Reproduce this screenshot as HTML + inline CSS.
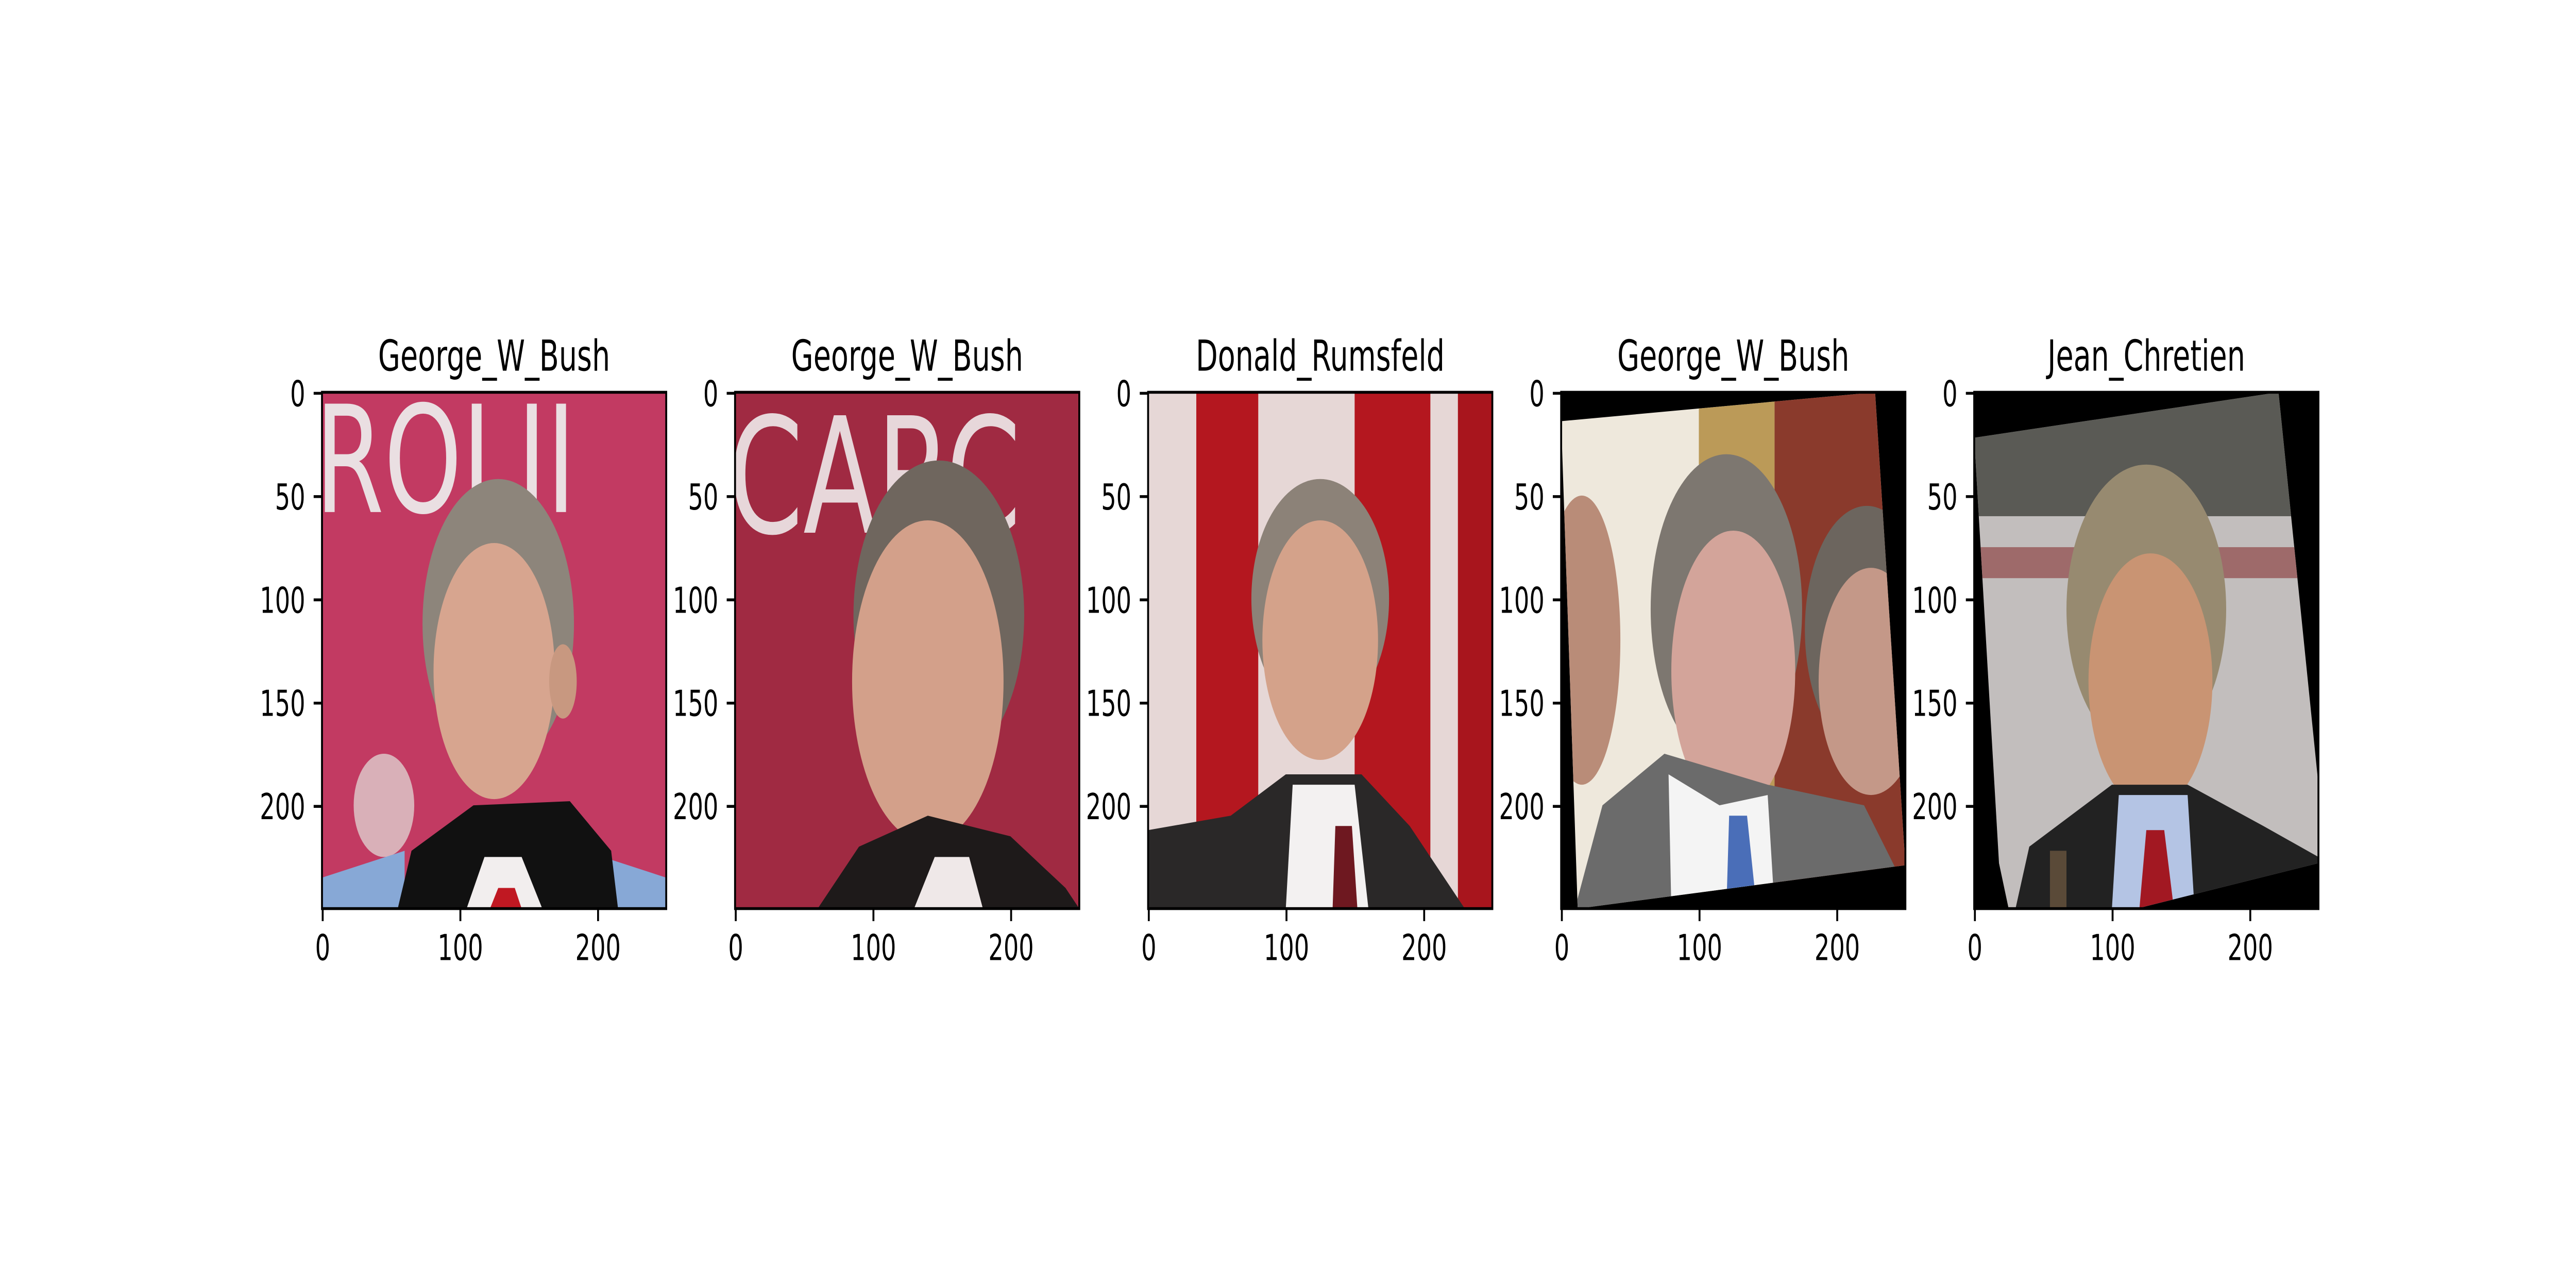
<!DOCTYPE html>
<html><head><meta charset="utf-8"><style>
html,body{margin:0;padding:0;background:#fff;overflow:hidden;width:100%;height:100%;}
svg{display:block;width:100vw;height:100vh;}
text{font-family:"DejaVu Sans","Liberation Sans",sans-serif;fill:#000;}
</style></head><body>
<svg id="fig" viewBox="0 0 7500 2500" preserveAspectRatio="none" xmlns="http://www.w3.org/2000/svg">
<rect x="0" y="0" width="7500" height="2500" fill="#fff"/>
<defs>
<clipPath id="cpSq"><rect width="250" height="250"/></clipPath>
<g id="img1">
 <g clip-path="url(#cpSq)">
 <rect width="250" height="250" fill="#c23a62"/>
 <text x="-5" y="58" font-size="72" font-family="Liberation Serif" style="fill:#eadfe2">ROLII</text>
 <ellipse cx="45" cy="200" rx="22" ry="25" fill="#d9b0b8"/>
 <ellipse cx="128" cy="112" rx="55" ry="70" fill="#8d857b"/>
 <ellipse cx="125" cy="135" rx="44" ry="62" fill="#d7a58f"/>
 <ellipse cx="175" cy="140" rx="10" ry="18" fill="#c89880"/>
 <path d="M0 235 L60 222 L60 250 L0 250Z" fill="#87a8d6"/>
 <path d="M190 222 L250 235 L250 250 L190 250Z" fill="#87a8d6"/>
 <path d="M55 250 L65 222 L110 200 L180 198 L210 222 L215 250Z" fill="#111"/>
 <path d="M105 250 L118 225 L145 225 L160 250Z" fill="#f2eeee"/>
 <path d="M122 250 L128 240 L140 240 L145 250Z" fill="#c01822"/>
 </g>
</g>
<g id="img2">
 <g clip-path="url(#cpSq)">
 <rect width="250" height="250" fill="#a02a42"/>
 <text x="-5" y="68" font-size="78" font-family="Liberation Serif" style="fill:#e7d7da">CARC</text>
 <ellipse cx="148" cy="108" rx="62" ry="75" fill="#6f665e"/>
 <ellipse cx="140" cy="140" rx="55" ry="78" fill="#d3a08a"/>
 <path d="M60 250 L90 220 L140 205 L200 215 L240 240 L250 250Z" fill="#1e1a1a"/>
 <path d="M130 250 L145 225 L170 225 L180 250Z" fill="#efe8e8"/>
 </g>
</g>
<g id="img3">
 <rect width="250" height="250" fill="#e6d7d6"/>
 <rect x="35" y="0" width="45" height="250" fill="#b4171f"/>
 <rect x="150" y="0" width="55" height="250" fill="#b4171f"/>
 <rect x="225" y="0" width="25" height="250" fill="#a8151d"/>
 <ellipse cx="125" cy="100" rx="50" ry="58" fill="#8c8278"/>
 <ellipse cx="125" cy="120" rx="42" ry="58" fill="#d4a28a"/>
 <path d="M0 212 L60 205 L100 185 L155 185 L190 210 L230 250 L0 250Z" fill="#2a2828"/>
 <path d="M100 250 L105 190 L150 190 L160 250Z" fill="#f3f1f1"/>
 <path d="M134 250 L136 210 L148 210 L152 250Z" fill="#6e1820"/>
</g>
<clipPath id="cp4"><polygon points="0,14 228,0 250,229 12,250"/></clipPath>
<clipPath id="cp5"><polygon points="0,22 221,0 250,190 250,228 118,250 25,250 18,228"/></clipPath>
<g id="img4">
 <rect width="250" height="250" fill="#000"/>
 <g clip-path="url(#cp4)">
  <rect width="250" height="250" fill="#eee8dc"/>
  <rect x="100" y="0" width="55" height="250" fill="#bb9a58"/>
  <rect x="155" y="0" width="95" height="250" fill="#8a3a2c"/>
  <ellipse cx="15" cy="120" rx="28" ry="70" fill="#b98c78"/>
  <ellipse cx="222" cy="115" rx="45" ry="60" fill="#6c655e"/>
  <ellipse cx="225" cy="140" rx="38" ry="55" fill="#c49888"/>
  <ellipse cx="120" cy="105" rx="55" ry="75" fill="#7d7770"/>
  <ellipse cx="125" cy="135" rx="45" ry="68" fill="#d3a49a"/>
  <path d="M10 250 L30 200 L75 175 L150 190 L220 200 L250 240 L250 250Z" fill="#6b6b6b"/>
  <path d="M80 250 L78 185 L115 200 L150 195 L155 250Z" fill="#f4f4f4"/>
  <path d="M120 250 L122 205 L135 205 L142 250Z" fill="#4a6eb8"/>
 </g>
</g>
<g id="img5">
 <rect width="250" height="250" fill="#000"/>
 <g clip-path="url(#cp5)">
  <rect width="250" height="250" fill="#c2bebd"/>
  <rect x="0" y="0" width="250" height="60" fill="#5a5a55"/>
  <rect x="0" y="75" width="250" height="15" fill="#9e6a6a"/>
  <ellipse cx="125" cy="105" rx="58" ry="70" fill="#978a70"/>
  <ellipse cx="128" cy="140" rx="45" ry="62" fill="#c99473"/>
  <path d="M30 250 L40 220 L100 190 L155 190 L210 210 L250 225 L250 250Z" fill="#222"/>
  <path d="M100 250 L105 195 L155 195 L160 250Z" fill="#b4c4e4"/>
  <path d="M120 250 L125 212 L138 212 L145 250Z" fill="#a21822"/>
  <rect x="55" y="222" width="12" height="28" fill="#5a4a38"/>
 </g>
</g>
</defs>
<g id="panels"></g>
</svg>
<script>
const titles = ["George_W_Bush","George_W_Bush","Donald_Rumsfeld","George_W_Bush","Jean_Chretien"];
const yTicks = [0,50,100,150,200];
const xTicks = [0,100,200];
const imgSize = [250,250];

const NS="http://www.w3.org/2000/svg";
const panelRoot=document.getElementById('panels');
const axW=1002.2, axH=1002.2, axGap=200.4, axLeft0=937.5, axTop=761.4;
function mk(tag,attrs,parent){const e=document.createElementNS(NS,tag);for(const k in attrs)e.setAttribute(k,attrs[k]);parent.appendChild(e);return e;}
function sx(v,x0){return x0+(v+0.5)/imgSize[0]*axW;}
function sy(v){return axTop+(v+0.5)/imgSize[1]*axH;}
titles.forEach((t,i)=>{
  const x0=axLeft0+i*(axW+axGap);
  const g=mk('g',{},panelRoot);
  
  
  const im=mk('use',{href:'#img'+(i+1),transform:`translate(${x0},${axTop}) scale(${axW/250})`},g);
  
  
  const fr=mk('rect',{x:x0,y:axTop,width:axW,height:axH,fill:'none',stroke:'#000','stroke-width':5.56},g);
  
  
  const tt=mk('text',{x:x0+axW/2,y:axTop-41.7,'text-anchor':'middle','font-size':83.3},g);
  tt.textContent=t;
  
  
  yTicks.forEach(v=>{
    const y=sy(v);
    const l=mk('line',{x1:x0,x2:x0-24.3,y1:y,y2:y,stroke:'#000','stroke-width':5.56},g);
    
    
    const tx=mk('text',{x:x0-48.6,y:y+25,'text-anchor':'end','font-size':69.4},g);
    tx.textContent=v;
    
    
  });
  xTicks.forEach(v=>{
    const x=sx(v,x0);
    const l=mk('line',{x1:x,x2:x,y1:axTop+axH,y2:axTop+axH+24.3,stroke:'#000','stroke-width':5.56},g);
    
    
    const tx=mk('text',{x:x,y:axTop+axH+100,'text-anchor':'middle','font-size':69.4},g);
    tx.textContent=v;
    
    
  });
});
</script>
</body></html>
